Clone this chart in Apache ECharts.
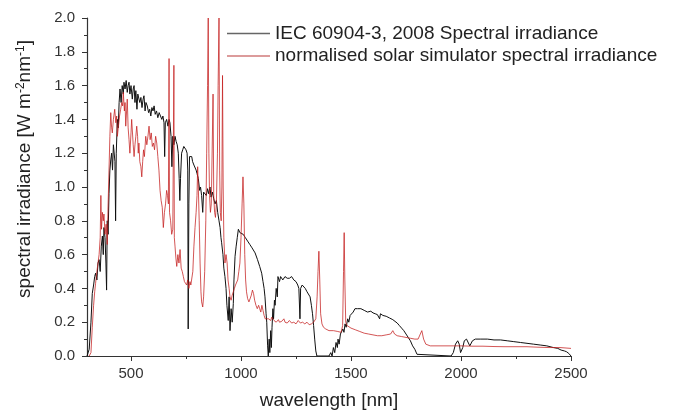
<!DOCTYPE html>
<html>
<head>
<meta charset="utf-8">
<script src="https://cdn.jsdelivr.net/npm/echarts@6/dist/echarts.min.js"></script>
<style>
  html, body { margin: 0; padding: 0; background: #fff; }
  #chart { width: 676px; height: 418px; }
</style>
</head>
<body>
<div id="chart"></div>
<script>
// IEC 60904-3 (2008) reference spectrum
var refWl = [300, 305, 310, 318, 324, 330, 335, 339, 345, 350, 355, 360, 365, 370, 374, 377, 382, 386, 389, 392, 396,
  400, 404, 408, 412, 416, 420, 423, 427, 430, 433, 438, 442, 446, 450, 455, 460, 465, 468, 473, 478, 483, 487, 491, 495,
  500, 506, 510, 514, 518, 522, 527, 531, 536, 540, 545, 550, 555, 559, 564, 568, 574, 580, 585, 590, 595,
  600, 605, 610, 616, 622, 628, 635, 640, 645, 650, 653, 656, 662, 668, 673, 677, 682, 686, 690, 695,
  700, 705, 710, 715, 719, 722, 725, 730, 735, 740, 745, 750, 755, 758, 760, 763, 766, 770, 776, 780, 786, 791, 796,
  800, 806, 812, 816, 821, 826, 830, 836, 842, 848, 853, 859, 864, 870, 876, 882, 888, 894,
  900, 905, 909, 912, 918, 922, 927, 932, 936, 942, 946, 950, 955, 960, 965, 968, 973, 978, 983, 988, 995,
  1000, 1010, 1020, 1030, 1040, 1050, 1064, 1075, 1085, 1094, 1100, 1105, 1109, 1114, 1117, 1121, 1124, 1128, 1131, 1135, 1138,
  1141, 1145, 1148, 1152, 1155, 1160, 1165, 1168, 1175, 1180, 1190, 1200, 1210, 1220, 1230, 1240, 1250, 1258, 1263, 1268, 1271,
  1278, 1285, 1292, 1300, 1307, 1314, 1320, 1325, 1330, 1335, 1340, 1345, 1400, 1408, 1414, 1420, 1426, 1432, 1438, 1441, 1446,
  1452, 1458, 1463, 1468, 1473, 1478, 1485, 1490, 1496, 1503, 1510, 1518, 1530, 1545, 1560, 1575, 1590, 1600, 1610, 1620, 1630,
  1634, 1645, 1660, 1675, 1690, 1700, 1710, 1720, 1730, 1740, 1750, 1760, 1770, 1780, 1790, 1800, 1805,
  1955, 1965, 1975, 1985, 1992, 1998, 2002, 2008, 2015, 2025, 2033, 2040, 2045, 2052, 2065, 2090, 2120, 2150, 2180, 2210,
  2240, 2270, 2300, 2330, 2360, 2390, 2420, 2440, 2455, 2460, 2470, 2480, 2490, 2500];
var refVal = [0, 0.01, 0.04, 0.2, 0.37, 0.42, 0.47, 0.49, 0.45, 0.55, 0.57, 0.5, 0.65, 0.71, 0.6, 0.76, 0.7, 0.55, 0.39, 0.8, 0.72,
  0.96, 1.1, 1.16, 1.2, 1.1, 1.25, 1.26, 1.15, 0.8, 1.2, 1.4, 1.35, 1.5, 1.58, 1.5, 1.6, 1.55, 1.62, 1.58, 1.63, 1.56, 1.6, 1.62, 1.55,
  1.6, 1.52, 1.58, 1.6, 1.5, 1.57, 1.46, 1.55, 1.56, 1.5, 1.53, 1.47, 1.52, 1.54, 1.45, 1.5, 1.48, 1.44, 1.46, 1.42, 1.47,
  1.45, 1.48, 1.43, 1.45, 1.41, 1.44, 1.44, 1.4, 1.42, 1.38, 1.18, 1.38, 1.4, 1.36, 1.4, 1.38, 1.3, 1.12, 1.3, 1.25,
  1.3, 1.27, 1.25, 1.2, 1.05, 0.92, 1.05, 1.2, 1.22, 1.24, 1.23, 1.22, 1.2, 1.1, 0.16, 0.9, 1.18, 1.17, 1.18, 1.15, 1.13, 1.14, 1.1,
  1.08, 1.05, 0.98, 1.0, 0.95, 0.85, 0.97, 0.98, 0.95, 0.99, 0.96, 1.0, 0.94, 0.97, 0.93, 0.9, 0.92, 0.85,
  0.8, 0.76, 0.7, 0.67, 0.6, 0.52, 0.47, 0.4, 0.3, 0.21, 0.35, 0.15, 0.28, 0.2, 0.31, 0.45, 0.59, 0.65, 0.7, 0.75, 0.73,
  0.74, 0.72, 0.7, 0.68, 0.66, 0.64, 0.61, 0.57, 0.53, 0.49, 0.44, 0.4, 0.35, 0.25, 0.2, 0.06, 0, 0.1, 0.02, 0.15, 0.05,
  0.17, 0.28, 0.22, 0.33, 0.3, 0.4, 0.35, 0.47, 0.44, 0.47, 0.45, 0.47, 0.46, 0.46, 0.47, 0.45, 0.44, 0.42, 0.4, 0.22, 0.4,
  0.42, 0.41, 0.4, 0.38, 0.37, 0.35, 0.3, 0.25, 0.18, 0.1, 0.03, 0, 0, 0.02, 0, 0.05, 0.02, 0.08, 0.05, 0.1, 0.07,
  0.13, 0.12, 0.16, 0.14, 0.19, 0.17, 0.22, 0.2, 0.24, 0.23, 0.26, 0.28, 0.28, 0.28, 0.27, 0.26, 0.265, 0.255, 0.25, 0.245, 0.22,
  0.25, 0.24, 0.235, 0.225, 0.215, 0.205, 0.195, 0.18, 0.165, 0.15, 0.13, 0.11, 0.09, 0.06, 0.04, 0.01, 0,
  0, 0.02, 0.07, 0.09, 0.07, 0.02, 0.01, 0.05, 0.09, 0.1, 0.09, 0.06, 0.06, 0.09, 0.1, 0.1, 0.1, 0.095, 0.095, 0.09,
  0.085, 0.08, 0.075, 0.07, 0.065, 0.06, 0.05, 0.045, 0.035, 0.045, 0.03, 0.025, 0.015, 0];

// normalised solar simulator spectrum
var simWl = [310, 318, 324, 330, 335, 339, 345, 350, 355, 360, 363, 366, 370, 374, 377, 382, 387, 392, 396,
  400, 404, 408, 412, 415, 420, 426, 431, 435, 438, 443, 448, 453, 458, 462, 465, 470, 473, 476, 480, 483, 487, 491, 495,
  500, 503, 506, 510, 514, 518, 522, 526, 530, 533, 536, 540, 545, 549, 553, 557, 561, 567, 572, 577, 582, 587, 592, 597,
  602, 607, 612, 617, 622, 627, 632, 637, 642, 647, 652, 657, 662, 666, 670, 673, 675, 680, 685, 690, 695, 697,
  700, 704, 708, 713, 718, 723, 728, 733, 738, 743, 748, 753, 758, 763, 768, 772, 776, 781, 786, 791, 796,
  800, 803, 806, 810, 814, 818, 821, 826, 830, 835, 840, 844, 848, 851, 854, 857, 861, 865, 869, 873, 876, 880, 884, 888, 893, 896,
  900, 903, 906, 910, 913, 916, 919, 922, 927, 932, 937, 941, 946, 950, 955, 960, 965, 970, 975, 980, 985, 990, 995,
  1000, 1005, 1009, 1013, 1017, 1021, 1025, 1030, 1036, 1041, 1047, 1052, 1057, 1062, 1068, 1074, 1080, 1085, 1090, 1095,
  1100, 1105, 1110, 1115, 1125, 1135, 1140, 1150, 1160, 1170, 1175, 1185, 1195, 1200, 1210, 1220, 1230, 1240, 1250, 1260, 1270,
  1280, 1290, 1300, 1310, 1320, 1330, 1340, 1346, 1350, 1354, 1358, 1362, 1368, 1375, 1385, 1400, 1420, 1440, 1455, 1462,
  1466, 1469, 1472, 1476, 1482, 1490, 1500, 1520, 1540, 1560, 1580, 1600, 1620, 1640, 1660, 1680, 1690, 1698, 1710, 1730,
  1750, 1770, 1790, 1805, 1815, 1822, 1830, 1840, 1860, 1900, 1950, 2000, 2050, 2100, 2150, 2200, 2250, 2300, 2350, 2400,
  2450, 2500];
var simVal = [0, 0.02, 0.17, 0.3, 0.38, 0.43, 0.5, 0.55, 0.6, 0.7, 0.95, 0.75, 0.85, 0.8, 0.84, 0.72, 0.78, 0.66, 0.9,
  1.1, 1.3, 1.44, 1.35, 1.32, 1.4, 1.46, 1.38, 1.42, 1.3, 1.36, 1.42, 1.46, 1.5, 1.48, 1.56, 1.45, 1.5, 1.36, 1.45, 1.52, 1.35, 1.28, 1.2,
  1.32, 1.4, 1.4, 1.25, 1.18, 1.25, 1.3, 1.36, 1.3, 1.2, 1.26, 1.15, 1.12, 1.06, 1.15, 1.22, 1.18, 1.3, 1.25, 1.3, 1.36, 1.28, 1.32, 1.24,
  1.26, 1.22, 1.3, 1.26, 1.18, 1.1, 0.98, 0.92, 0.88, 0.76, 0.85, 0.9, 0.98, 0.95, 0.9, 1.76, 0.85, 0.8, 0.72, 0.75, 1.72, 0.7,
  0.65, 0.58, 0.53, 0.6, 0.55, 0.63, 0.52, 0.5, 0.47, 0.44, 0.45, 0.42, 0.45, 0.4, 0.44, 0.42, 0.41, 0.5, 0.65, 0.76, 0.85,
  0.95, 1.12, 1.0, 0.8, 0.55, 0.38, 0.32, 0.29, 0.35, 0.5, 0.8, 1.2, 1.6, 2.0, 1.2, 0.95, 0.85, 0.9, 0.9, 1.55, 0.95, 0.85, 0.82, 0.9, 1.2, 1.6,
  2.0, 1.1, 0.85, 0.8, 1.0, 1.66, 1.0, 0.7, 0.55, 0.6, 0.55, 0.45, 0.4, 0.35, 0.33, 0.36, 0.38, 0.4, 0.42, 0.41, 0.45, 0.5, 0.55,
  0.7, 0.9, 1.06, 0.9, 0.6, 0.45, 0.38, 0.34, 0.32, 0.33, 0.36, 0.39, 0.37, 0.33, 0.3, 0.28, 0.3, 0.28, 0.26, 0.3,
  0.27, 0.24, 0.22, 0.215, 0.22, 0.21, 0.23, 0.21, 0.2, 0.215, 0.2, 0.205, 0.22, 0.2, 0.195, 0.21, 0.195, 0.2, 0.19, 0.21, 0.195,
  0.2, 0.19, 0.2, 0.185, 0.19, 0.2, 0.22, 0.35, 0.5, 0.62, 0.45, 0.25, 0.19, 0.17, 0.16, 0.15, 0.15, 0.145, 0.14, 0.18,
  0.5, 0.73, 0.45, 0.2, 0.18, 0.17, 0.165, 0.155, 0.145, 0.135, 0.13, 0.125, 0.12, 0.12, 0.125, 0.13, 0.15, 0.13, 0.12, 0.115,
  0.11, 0.105, 0.1, 0.1, 0.13, 0.15, 0.1, 0.07, 0.06, 0.06, 0.06, 0.06, 0.058, 0.058, 0.056, 0.055, 0.055, 0.055, 0.052, 0.05,
  0.05, 0.045];

var xMajor = [500, 1000, 1500, 2000, 2500];
var xMinor = [750, 1250, 1750, 2250];

var font = "'Liberation Sans', Arial, sans-serif";

function pairs(wl, val) {
  return wl.map(function (w, i) { return [w, val[i]]; });
}

var myChart = echarts.init(document.getElementById("chart"));
var option = {
  animation: false,
  backgroundColor: "#fff",
  textStyle: { fontFamily: font },
  grid: { left: 87, right: 105, top: 18, bottom: 62 },
  legend: {
    orient: "vertical",
    left: 227,
    top: 24,
    padding: 0,
    icon: "rect",
    itemWidth: 43,
    itemHeight: 1.5,
    itemGap: 3.5,
    textStyle: { fontFamily: font, fontSize: 19, lineHeight: 19, color: "#222" },
    data: [
      { name: "IEC 60904-3, 2008 Spectral irradiance", itemStyle: { color: "#666" } },
      { name: "normalised solar simulator spectral irradiance", itemStyle: { color: "#d07a7a" } }
    ]
  },
  xAxis: [
    {
      type: "value",
      min: 300,
      max: 2500,
      name: "wavelength [nm]",
      nameLocation: "middle",
      nameGap: 35,
      nameTextStyle: { fontFamily: font, fontSize: 19, color: "#222" },
      axisLine: { lineStyle: { color: "#333", width: 1.2 } },
      axisTick: { show: true, customValues: xMajor, length: 5, lineStyle: { color: "#333" } },
      axisLabel: {
        customValues: xMajor,
        margin: 10,
        fontSize: 15,
        color: "#333",
        fontFamily: font,
        formatter: function (v) { return String(v); }
      },
      splitLine: { show: false }
    },
    {
      type: "value",
      min: 300,
      max: 2500,
      position: "bottom",
      axisLine: { show: false },
      axisTick: { show: true, customValues: xMinor, length: 3, lineStyle: { color: "#333" } },
      axisLabel: { show: false },
      splitLine: { show: false }
    }
  ],
  yAxis: {
    type: "value",
    min: 0,
    max: 2,
    interval: 0.2,
    axisLine: { show: true, lineStyle: { color: "#333", width: 1.2 } },
    axisTick: { show: true, length: 5, lineStyle: { color: "#333" } },
    minorTick: { show: true, splitNumber: 2, length: 3, lineStyle: { color: "#333" } },
    axisLabel: {
      margin: 12,
      fontSize: 15,
      color: "#333",
      fontFamily: font,
      formatter: function (v) { return v.toFixed(1); }
    },
    splitLine: { show: false }
  },
  graphic: [
    {
      type: "text",
      x: 25,
      y: 169,
      rotation: Math.PI / 2,
      style: {
        text: "{a|spectral irradiance [W m}{s|-2}{a|nm}{s|-1}{a|]}",
        align: "center",
        verticalAlign: "middle",
        rich: {
          a: { fontFamily: font, fontSize: 19, fill: "#222" },
          s: { fontFamily: font, fontSize: 12, fill: "#222", padding: [0, 0, 9, 0] }
        }
      }
    }
  ],
  series: [
    {
      name: "IEC 60904-3, 2008 Spectral irradiance",
      type: "line",
      symbol: "none",
      data: pairs(refWl, refVal),
      lineStyle: { color: "#111", width: 1 }
    },
    {
      name: "normalised solar simulator spectral irradiance",
      type: "line",
      symbol: "none",
      data: pairs(simWl, simVal),
      lineStyle: { color: "rgba(196, 30, 30, 0.75)", width: 1 }
    }
  ]
};
myChart.setOption(option);
</script>
</body>
</html>
